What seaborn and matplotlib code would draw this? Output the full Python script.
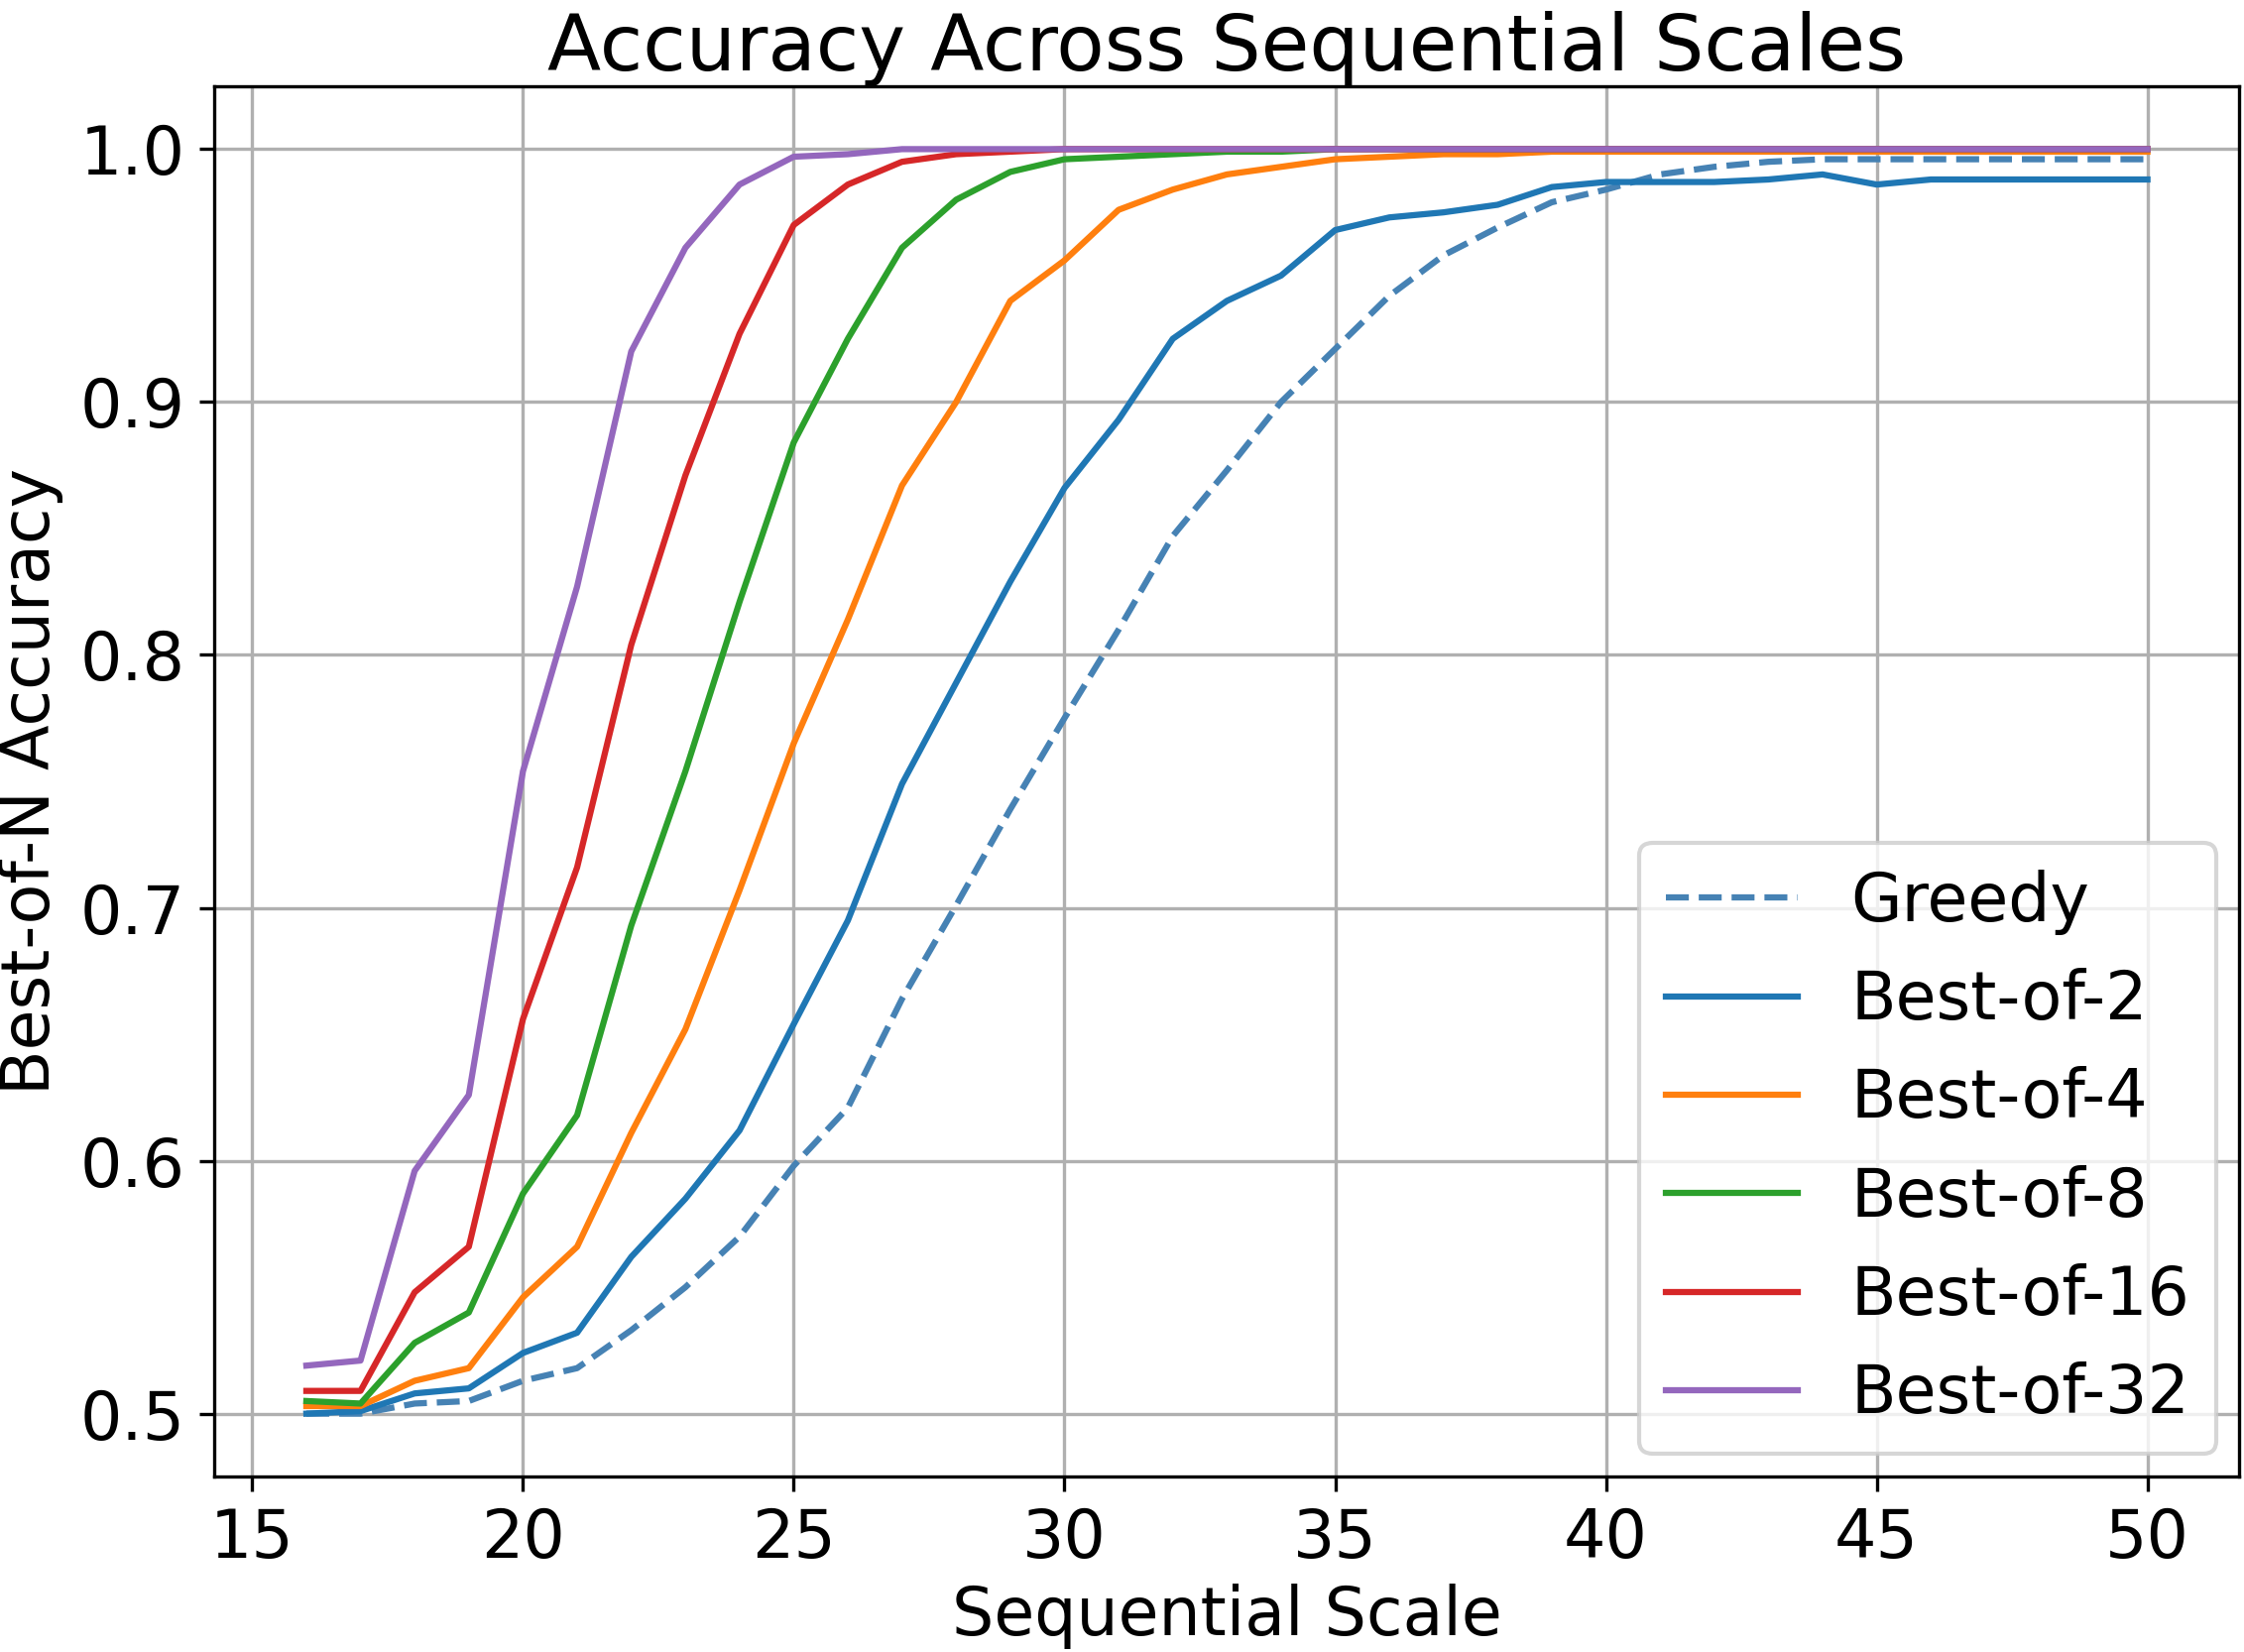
import numpy as np
import pandas as pd
import matplotlib
matplotlib.use("Agg")
import matplotlib.pyplot as plt
import seaborn as sns

scales = list(range(16, 51))

greedy = [0.500, 0.500, 0.504, 0.505, 0.513, 0.518, 0.533, 0.550, 0.570, 0.598,
          0.621, 0.664, 0.701, 0.739, 0.775, 0.810, 0.847, 0.873, 0.900, 0.921,
          0.942, 0.958, 0.969, 0.979, 0.984, 0.990, 0.993, 0.995, 0.996, 0.996,
          0.996, 0.996, 0.996, 0.996, 0.996]
best2 = [0.500, 0.501, 0.508, 0.510, 0.524, 0.532, 0.562, 0.585, 0.612, 0.654,
         0.695, 0.749, 0.789, 0.829, 0.866, 0.893, 0.925, 0.940, 0.950, 0.968,
         0.973, 0.975, 0.978, 0.985, 0.987, 0.987, 0.987, 0.988, 0.990, 0.986,
         0.988, 0.988, 0.988, 0.988, 0.988]
best4 = [0.503, 0.503, 0.513, 0.518, 0.546, 0.566, 0.611, 0.652, 0.707, 0.765,
         0.814, 0.867, 0.900, 0.940, 0.956, 0.976, 0.984, 0.990, 0.993, 0.996,
         0.997, 0.998, 0.998, 0.999, 0.999, 0.999, 0.999, 0.999, 0.999, 0.999,
         0.999, 0.999, 0.999, 0.999, 0.999]
best8 = [0.505, 0.504, 0.528, 0.540, 0.587, 0.618, 0.693, 0.754, 0.821, 0.884,
         0.925, 0.961, 0.980, 0.991, 0.996, 0.997, 0.998, 0.999, 0.999, 1.000,
         1.000, 1.000, 1.000, 1.000, 1.000, 1.000, 1.000, 1.000, 1.000, 1.000,
         1.000, 1.000, 1.000, 1.000, 1.000]
best16 = [0.509, 0.509, 0.548, 0.566, 0.656, 0.716, 0.804, 0.871, 0.927, 0.970,
          0.986, 0.995, 0.998, 0.999, 1.000, 1.000, 1.000, 1.000, 1.000, 1.000,
          1.000, 1.000, 1.000, 1.000, 1.000, 1.000, 1.000, 1.000, 1.000, 1.000,
          1.000, 1.000, 1.000, 1.000, 1.000]
best32 = [0.519, 0.521, 0.596, 0.626, 0.754, 0.827, 0.920, 0.961, 0.986, 0.997,
          0.998, 1.000, 1.000, 1.000, 1.000, 1.000, 1.000, 1.000, 1.000, 1.000,
          1.000, 1.000, 1.000, 1.000, 1.000, 1.000, 1.000, 1.000, 1.000, 1.000,
          1.000, 1.000, 1.000, 1.000, 1.000]

series_names = ["Greedy", "Best-of-2", "Best-of-4", "Best-of-8", "Best-of-16", "Best-of-32"]
series_values = [greedy, best2, best4, best8, best16, best32]
colors = ["#4682B4", "#1f77b4", "#ff7f0e", "#2ca02c", "#d62728", "#9467bd"]
styles = ["--", "-", "-", "-", "-", "-"]

plt.rcParams['font.family'] = ['DejaVu Sans']

fig = plt.figure(figsize=(2263 / 300, 1666 / 300), dpi=300)
ax = fig.add_axes([0.0955, 0.106, 0.9025, 0.842])

for name, vals, c, ls in zip(series_names, series_values, colors, styles):
    df = pd.DataFrame({"scale": scales, "acc": vals})
    sns.lineplot(data=df, x="scale", y="acc", ax=ax, color=c, linestyle=ls,
                 linewidth=1.5, label=name)

ax.grid(True, color="#b0b0b0", linewidth=0.8)
ax.set_axisbelow(True)
ax.set_xticks([15, 20, 25, 30, 35, 40, 45, 50])
ax.set_yticks([0.5, 0.6, 0.7, 0.8, 0.9, 1.0])
ax.tick_params(labelsize=16)
ax.set_xlabel("Sequential Scale", fontsize=16, labelpad=3)
ax.set_ylabel("Best-of-N Accuracy", fontsize=16, labelpad=4)
ax.set_title("Accuracy Across Sequential Scales", fontsize=19, pad=1)
ax.legend(loc="lower right", fontsize=16, borderaxespad=0.35)

fig.savefig("out.png", dpi=300)
